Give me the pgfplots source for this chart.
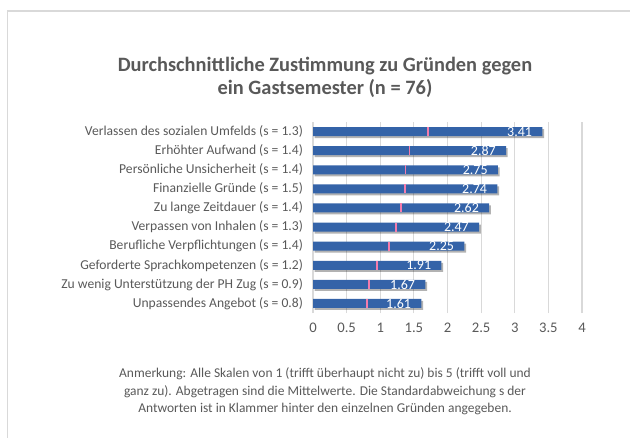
\documentclass[border=0pt]{standalone}
\usepackage{pgfplots}
\pgfplotsset{compat=1.18}
\usepackage{fontspec}
\setmainfont{Carlito}
\definecolor{txt}{HTML}{595959}
\definecolor{barc}{HTML}{3463A8}
\definecolor{pinkm}{HTML}{F47CAC}
\definecolor{gridc}{HTML}{D9D9D9}
\pgfplotstableread{
y v
0 1.61
1 1.67
2 1.91
3 2.25
4 2.47
5 2.62
6 2.74
7 2.75
8 2.87
9 3.41
}\bars
\pgfplotstableread{
y m
0 0.805
1 0.835
2 0.955
3 1.125
4 1.235
5 1.31
6 1.37
7 1.375
8 1.435
9 1.705
}\mids
\begin{document}
\begin{tikzpicture}
\useasboundingbox (0pt,0pt) rectangle (472.5pt,327.75pt);
\draw[gridc, line width=1.2pt] (5.6pt,-5pt) -- (5.6pt,319.5pt) -- (480pt,319.5pt);
\node[font=\fontsize{15.3}{17.4}\selectfont\bfseries, text=txt, align=center] at (243.75pt,269.5pt) {Durchschnittliche Zustimmung zu Gründen gegen\\ein Gastsemester (n = 76)};
\node[font=\fontsize{10.1}{13.1}\selectfont, text=txt, align=center] at (243.75pt,34pt) {Anmerkung: Alle Skalen von 1 (trifft überhaupt nicht zu) bis 5 (trifft voll und\\ganz zu). Abgetragen sind die Mittelwerte. Die Standardabweichung s der\\Antworten ist in Klammer hinter den einzelnen Gründen angegeben.};
\begin{axis}[
  at={(234.75pt,93pt)}, anchor=south west, scale only axis,
  width=201.75pt, height=143.25pt,
  xmin=0, xmax=4, ymin=-0.5, ymax=9.5,
  xtick={0,0.5,...,4}, ytick={0,...,9},
  yticklabels={Unpassendes Angebot (s = 0.8),Zu wenig Unterstützung der PH Zug (s = 0.9),Geforderte Sprachkompetenzen (s = 1.2),Berufliche Verpflichtungen (s = 1.4),Verpassen von Inhalen (s = 1.3),Zu lange Zeitdauer (s = 1.4),Finanzielle Gründe (s = 1.5),Persönliche Unsicherheit (s = 1.4),Erhöhter Aufwand (s = 1.4),Verlassen des sozialen Umfelds (s = 1.3)},
  axis line style={draw=none}, major tick length=0pt,
  xmajorgrids, grid style={gridc, line width=0.8pt},
  /pgf/number format/assume math mode=true,
  xticklabel style={font=\fontsize{11}{13}\selectfont, text=txt, yshift=-4pt},
  yticklabel style={font=\fontsize{10.2}{12}\selectfont, text=txt, xshift=-4pt},
  clip=false,
]
\addplot[xbar, bar width=6.75pt, bar shift=0pt, draw=none, fill=black, fill opacity=0.3, xshift=1.3pt, yshift=-1.5pt] table[x=v, y=y] {\bars};
\addplot[xbar, bar width=6.75pt, bar shift=0pt, draw=none, fill=barc,
  point meta=x, nodes near coords={\pgfmathprintnumber[fixed,precision=2,fixed zerofill]{\pgfplotspointmeta}},
  nodes near coords style={anchor=east, text=white, font=\fontsize{10.5}{12}\selectfont, inner sep=0pt, xshift=-7.5pt}] table[x=v, y=y] {\bars};
\addplot[only marks, mark=|, mark size=3.4pt, mark options={draw=pinkm, line width=1.4pt}] table[x=m, y=y] {\mids};
\end{axis}
\end{tikzpicture}
\end{document}
